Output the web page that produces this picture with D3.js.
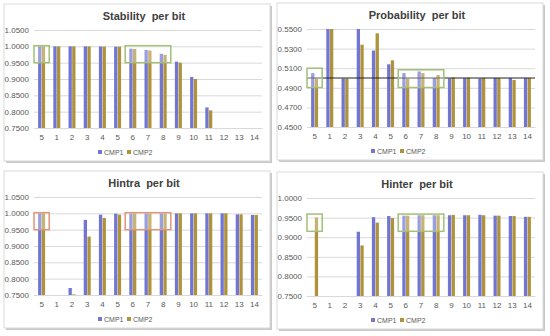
<!DOCTYPE html>
<html>
<head>
<meta charset="utf-8">
<script src="https://cdn.jsdelivr.net/npm/d3@7"></script>
<style>
  body { margin: 0; background: #fff; }
  text { font-family: "Liberation Sans", Arial, sans-serif; }
</style>
</head>
<body>
<div id="chart"></div>
<script>
// categories (bit order as shown on the x axis)
var cats = ["5", "1", "2", "3", "4", "5", "6", "7", "8", "9", "10", "11", "12", "13", "14"];
var seriesNames = ["CMP1", "CMP2"];

var stabilityCmp1 = [1.0, 1.0, 1.0, 1.0, 0.9995, 0.999, 0.993, 0.989, 0.977, 0.953, 0.906, 0.813, 0, 0, 0];
var stabilityCmp2 = [1.0, 1.0, 1.0, 1.0, 0.9995, 0.999, 0.992, 0.987, 0.974, 0.950, 0.900, 0.804, 0, 0, 0];

var probCmp1 = [0.505, 0.55, 0.4995, 0.55, 0.528, 0.514, 0.505, 0.5067, 0.500, 0.4995, 0.4998, 0.4995, 0.500, 0.500, 0.500];
var probCmp2 = [0.4995, 0.55, 0.4995, 0.534, 0.5456, 0.518, 0.4995, 0.505, 0.503, 0.5005, 0.5003, 0.500, 0.500, 0.498, 0.500];

var hintraCmp1 = [1.0, 0, 0.7715, 0.980, 0.996, 0.999, 1.0, 1.0, 1.0, 1.0, 1.0, 1.0, 1.0, 0.997, 0.995];
var hintraCmp2 = [1.0, 0, 0.752, 0.929, 0.986, 0.996, 1.0, 1.0, 1.0, 1.0, 1.0, 1.0, 1.0, 0.997, 0.995];

var hinterCmp1 = [0, 0, 0, 0.914, 0.951, 0.954, 0.955, 0.956, 0.956, 0.956, 0.956, 0.957, 0.955, 0.954, 0.952];
var hinterCmp2 = [0.9505, 0, 0, 0.879, 0.937, 0.949, 0.955, 0.956, 0.956, 0.957, 0.956, 0.956, 0.955, 0.954, 0.952];

// y ticks
var stabilityTicks = [0.75, 0.80, 0.85, 0.90, 0.95, 1.00, 1.05];
var probTicks = [0.45, 0.47, 0.49, 0.51, 0.53, 0.55];
var hintraTicks = [0.75, 0.80, 0.85, 0.90, 0.95, 1.00, 1.05];
var hinterTicks = [0.75, 0.80, 0.85, 0.90, 0.95, 1.00];

// highlight boxes: [first cat index, last cat index, low, high]
var stabilityBoxes = [[0, 0, 0.95, 1.002], [6, 8, 0.95, 1.002]];
var probBoxes = [[0, 0, 0.4903, 0.510], [6, 8, 0.4903, 0.5084]];
var hintraBoxes = [[0, 0, 0.95, 1.002], [6, 8, 0.95, 1.002]];
var hinterBoxes = [[0, 0, 0.915, 0.959], [6, 8, 0.915, 0.959]];

var colors = { CMP1: "#7276d2", CMP2: "#ae933c" };

var svg = d3.select("#chart")
  .append("svg")
  .attr("width", 550)
  .attr("height", 336);

var panelW = 266, panelH = 157;
var margin = { top: 26, left: 30, right: 8, bottom: 33 };
var plotW = panelW - margin.left - margin.right,
    plotH = panelH - margin.top - margin.bottom;

function drawPanel(px, py, title, v1, v2, ticks, boxes, boxColor, refLine) {
  var p = svg.append("g").attr("transform", "translate(" + px + "," + py + ")");

  // card + shadow
  p.append("rect").attr("x", 2).attr("y", 2).attr("width", panelW).attr("height", panelH)
    .attr("fill", "#c9c9c9");
  p.append("rect").attr("width", panelW).attr("height", panelH)
    .attr("fill", "#fff").attr("stroke", "#d9d9d9");

  p.append("text")
    .attr("x", margin.left + plotW / 2 - 4)
    .attr("y", 16)
    .attr("text-anchor", "middle")
    .style("white-space", "pre")
    .attr("font-size", 11)
    .attr("font-weight", "bold")
    .attr("fill", "#404040")
    .text(title);

  var g = p.append("g").attr("transform", "translate(" + margin.left + "," + margin.top + ")");

  var yMin = ticks[0], yMax = ticks[ticks.length - 1];
  var y = d3.scaleLinear().domain([yMin, yMax]).range([plotH, 0]);
  var x = d3.scaleBand().domain(d3.range(cats.length)).range([0, plotW]);
  var xs = d3.scaleBand().domain(seriesNames)
    .range([x.bandwidth() * 0.27, x.bandwidth() * 0.73]).paddingInner(0.1);

  // gridlines
  g.append("g")
    .call(d3.axisLeft(y).tickValues(ticks).tickSize(-plotW).tickFormat(d3.format(".4f")))
    .call(function(a) {
      a.select(".domain").remove();
      a.selectAll(".tick line").attr("stroke", "#d9d9d9");
      a.selectAll(".tick text").attr("x", -5).attr("fill", "#595959")
        .attr("font-size", 8).attr("font-family", "Liberation Sans, Arial, sans-serif");
    });

  // x axis labels
  g.append("g")
    .attr("transform", "translate(0," + plotH + ")")
    .call(d3.axisBottom(x).tickSize(0).tickFormat(function(i) { return cats[i]; }))
    .call(function(a) {
      a.select(".domain").attr("stroke", "#d9d9d9");
      a.selectAll(".tick text").attr("dy", "0.71em").attr("y", 6).attr("fill", "#595959")
        .attr("font-size", 8).attr("font-family", "Liberation Sans, Arial, sans-serif");
    });

  var rows = cats.map(function(c, i) { return { i: i, CMP1: v1[i], CMP2: v2[i] }; });

  var grp = g.selectAll(".cat")
    .data(rows)
    .enter().append("g")
    .attr("transform", function(d) { return "translate(" + x(d.i) + ",0)"; });

  grp.selectAll("rect")
    .data(function(d) {
      return seriesNames.map(function(s) { return { key: s, value: d[s] }; })
        .filter(function(e) { return e.value > yMin; });
    })
    .enter().append("rect")
    .attr("x", function(d) { return xs(d.key); })
    .attr("width", xs.bandwidth())
    .attr("y", function(d) { return y(Math.min(d.value, yMax)); })
    .attr("height", function(d) { return plotH - y(Math.min(d.value, yMax)); })
    .attr("fill", function(d) { return colors[d.key]; });

  if (refLine != null) {
    g.append("line")
      .attr("x1", 0).attr("x2", plotW)
      .attr("y1", y(refLine)).attr("y2", y(refLine))
      .attr("stroke", "#222").attr("stroke-width", 1);
  }

  // highlight boxes
  g.selectAll(".hl")
    .data(boxes)
    .enter().append("rect")
    .attr("class", "hl")
    .attr("x", function(d) { return x(d[0]); })
    .attr("width", function(d) { return x(d[1]) + x.bandwidth() - x(d[0]); })
    .attr("y", function(d) { return y(d[3]); })
    .attr("height", function(d) { return y(d[2]) - y(d[3]); })
    .attr("fill", "#fff").attr("fill-opacity", 0.3)
    .attr("stroke", boxColor).attr("stroke-width", 1.5);

  // legend
  var leg = p.append("g").attr("transform", "translate(" + (margin.left + plotW / 2 - 50) + "," + (panelH - 6) + ")");
  var li = leg.selectAll("g")
    .data(seriesNames)
    .enter().append("g")
    .attr("transform", function(d, i) { return "translate(" + (i * 29) + ",0)"; });
  li.append("rect").attr("x", 0).attr("y", -5).attr("width", 4).attr("height", 4)
    .attr("fill", function(d) { return colors[d]; });
  li.append("text").attr("x", 6).attr("y", -0.5)
    .attr("font-size", 7).attr("fill", "#595959")
    .text(function(d) { return d; });
}

drawPanel(4, 4, "Stability  per bit", stabilityCmp1, stabilityCmp2, stabilityTicks, stabilityBoxes, "#a3bf78", null);
drawPanel(277, 3, "Probability  per bit", probCmp1, probCmp2, probTicks, probBoxes, "#a3bf78", 0.5);
drawPanel(4, 171, "Hintra  per bit", hintraCmp1, hintraCmp2, hintraTicks, hintraBoxes, "#e0967a", null);
drawPanel(277, 172, "Hinter  per bit", hinterCmp1, hinterCmp2, hinterTicks, hinterBoxes, "#a3bf78", null);
</script>
</body>
</html>
